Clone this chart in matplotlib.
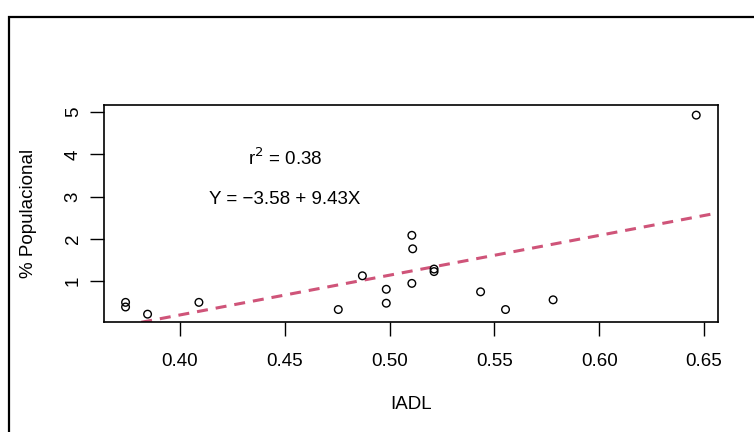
import numpy as np
import matplotlib.pyplot as plt
from matplotlib.patches import Rectangle

plt.rcParams['font.family'] = ['Liberation Sans', 'DejaVu Sans']

# data
iadl = [0.374, 0.374, 0.3845, 0.409, 0.4755, 0.487, 0.4984, 0.4984,
        0.5106, 0.511, 0.5106, 0.5212, 0.5212, 0.5434, 0.5553, 0.578, 0.6463]
pop = [0.49, 0.38, 0.21, 0.49, 0.32, 1.12, 0.80, 0.47,
       2.08, 1.76, 0.94, 1.28, 1.22, 0.74, 0.32, 0.55, 4.93]

intercept = -3.58
slope = 9.43
r2 = 0.38

xticks = [0.40, 0.45, 0.50, 0.55, 0.60, 0.65]
yticks = [1, 2, 3, 4, 5]

fig = plt.figure(figsize=(7.54, 4.32), dpi=100)
ax = fig.add_axes([0.1379, 0.2546, 0.8144, 0.5023])

ax.scatter(iadl, pop, s=30, facecolors='none', edgecolors='black', linewidths=1.0, zorder=3)

xlim = (0.3637, 0.6567)
ylim = (0.024, 5.17)
xx = np.linspace(xlim[0], xlim[1], 50)
line, = ax.plot(xx, intercept + slope * xx, color='#CF5479', lw=2.2, zorder=2)
line.set_dashes([3.6, 2.6])

ax.set_xlim(*xlim)
ax.set_ylim(*ylim)
ax.set_xticks(xticks)
ax.set_xticklabels(['%.2f' % t for t in xticks])
ax.set_yticks(yticks)
ax.set_yticklabels([str(t) for t in yticks], rotation=90, va='center')

ax.tick_params(direction='out', length=10, width=1.0, labelsize=13.5, colors='black')
ax.tick_params(axis='x', pad=12)
ax.tick_params(axis='y', pad=6)
for sp in ax.spines.values():
    sp.set_linewidth(1.2)

ax.set_xlabel('IADL', fontsize=13.5, labelpad=19)
ax.set_ylabel('% Populacional', fontsize=13.5, labelpad=20)

ax.text(0.45, 3.9, r'r$^2$ = %.2f' % r2, ha='center', va='center', fontsize=13.5)
ax.text(0.45, 2.93, 'Y = \u2212%.2f + %.2fX' % (-intercept, slope), ha='center', va='center', fontsize=13.5)

# outer frame of the original image
fig.patches.append(Rectangle((9 / 754, -0.1), 1.2, (432 - 17) / 432 + 0.1,
                             transform=fig.transFigure, fill=False,
                             edgecolor='black', linewidth=1.6, clip_on=False))

fig.savefig('out.png', dpi=100)
